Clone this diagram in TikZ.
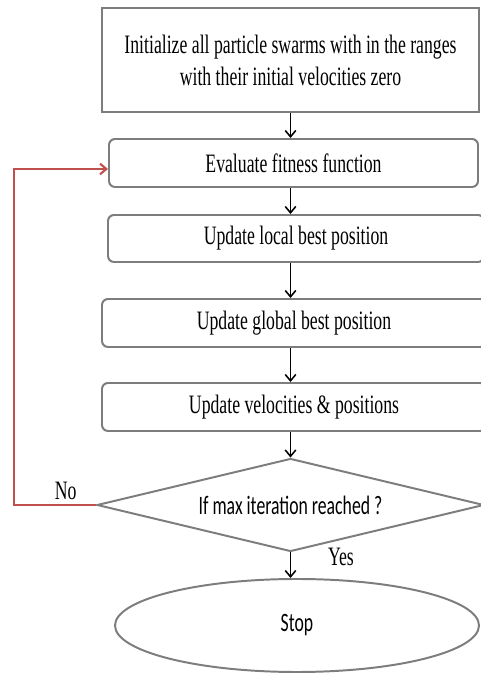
\documentclass[tikz,border=0pt]{standalone}
\usepackage{graphicx}
\usepackage{fontspec}
\setmainfont{Liberation Serif}
\newfontfamily\calibrifont{Carlito}
\usetikzlibrary{shapes.geometric,arrows.meta}

\definecolor{boxgray}{RGB}{125,125,125}
\definecolor{loopred}{RGB}{192,80,77}

% tall, narrow lettering
\newcommand{\tallt}[1]{\scalebox{1}[1.5]{#1}}

\tikzset{
    stepbox/.style={draw=boxgray,line width=1.4pt,rounded corners=0.15cm,
        minimum height=1.2cm,inner sep=0pt},
    flowarrow/.style={draw=black,line width=1.1pt,
        -{Straight Barb[length=4.5pt,width=7.5pt]}},
    loopline/.style={draw=loopred,line width=1.5pt,
        -{Straight Barb[length=4.5pt,width=7.5pt]}}
}

\begin{document}
\begin{tikzpicture}[font=\fontsize{12.6}{22.8}\selectfont]
        % Fix the page size
        \useasboundingbox (0,0) rectangle (12,16.825);
        % Draw start box
        \node[draw=boxgray,line width=1.4pt,minimum width=9.425cm,minimum height=2.6cm,align=center] (init) at (7.2625,15.325) {
            \tallt{Initialize all particle swarms with in the ranges}\\
            \tallt{with their initial velocities zero}
        };
        % Draw steps
        \node[stepbox,minimum width=9.225cm] (eval) at (7.3375,12.75) {\tallt{Evaluate fitness function}};
        \node[stepbox,minimum width=9.4cm,minimum height=1.175cm] (local) at (7.4,10.8625) {\tallt{Update local best position}};
        \node[stepbox,minimum width=9.6cm] (global) at (7.35,8.75) {\tallt{Update global best position}};
        \node[stepbox,minimum width=9.6cm] (move) at (7.35,6.65) {\tallt{Update velocities \& positions}};
        % Draw decision
        \node[draw=boxgray,line width=1.4pt,shape=diamond,shape aspect=4.1,inner sep=1pt,
            minimum width=9.675cm,minimum height=2.325cm,font=\calibrifont\fontsize{12.6}{15}\selectfont] (check) at (7.2625,4.2) {\tallt{If max iteration reached ?}};
        % Draw end
        \node[draw=boxgray,line width=1.4pt,shape=ellipse,minimum width=9.1cm,minimum height=2.325cm,
            font=\calibrifont\fontsize{12.6}{15}\selectfont] (stop) at (7.425,1.1875) {\tallt{Stop}};
        % Draw arrows
        \draw[flowarrow] (init.south) -- (init.south |- eval.north);
        \draw[flowarrow] (init.south |- eval.south) -- (init.south |- local.north);
        \draw[flowarrow] (init.south |- local.south) -- (init.south |- global.north);
        \draw[flowarrow] (init.south |- global.south) -- (init.south |- move.north);
        \draw[flowarrow] (init.south |- move.south) -- (check.north);
        \draw[flowarrow] (check.south) -- (check.south |- stop.north);
        % Draw loop back
        \coordinate (loopc) at (0.35,4.2);
        \draw[loopline] (check.west) -- node[above,pos=0.37,inner sep=3pt] (no) {\tallt{No}} (loopc) |- ([yshift=-0.15cm]eval.west);
        % Draw answer
        \node (yes) at (8.525,2.9) {\tallt{Yes}};
    \end{tikzpicture}
\end{document}
